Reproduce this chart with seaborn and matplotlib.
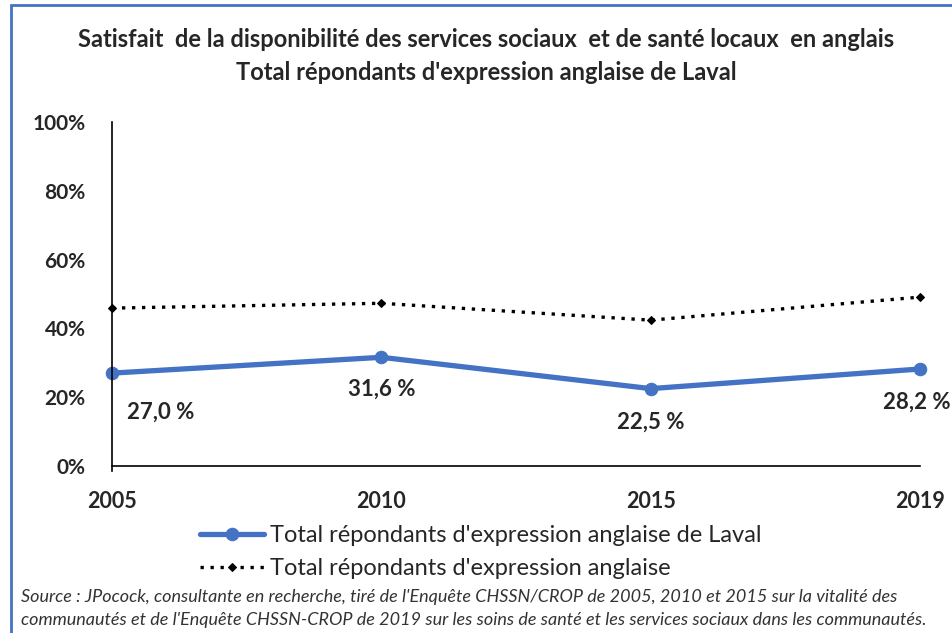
import numpy as np
import pandas as pd
import matplotlib.pyplot as plt
import seaborn as sns
from matplotlib.patches import Rectangle

# data
years = ['2005', '2010', '2015', '2019']
laval = [27.0, 31.6, 22.5, 28.2]
anglais = [45.9, 47.3, 42.4, 49.1]
laval_labels = ['27,0 %', '31,6 %', '22,5 %', '28,2 %']
label_offsets = [(11, -28), (0, -23), (0, -24), (-2, -24)]
y_ticks = [0, 20, 40, 60, 80, 100]

name_laval = "Total répondants d'expression anglaise de Laval"
name_all = "Total répondants d'expression anglaise"

sns.set_style('white')
plt.rcParams['font.family'] = ['Lato', 'DejaVu Sans']

df = pd.DataFrame({'annee': years * 2,
                   'valeur': laval + anglais,
                   'serie': [name_laval] * 4 + [name_all] * 4})

fig = plt.figure(figsize=(9.53, 6.33), dpi=100)
ax = fig.add_axes([0.1175, 0.2638, 0.8479, 0.5435])

blue = '#4472C4'
sns.lineplot(data=df[df.serie == name_laval], x='annee', y='valeur', ax=ax,
             color=blue, lw=3.8, marker='o', markersize=9, markeredgecolor=blue,
             label=name_laval, sort=False)
sns.lineplot(data=df[df.serie == name_all], x='annee', y='valeur', ax=ax,
             color='black', lw=2.4, linestyle=(0, (1, 2)), marker='D', markersize=4.5,
             markeredgecolor='black', label=name_all, sort=False)

ax.set_xlim(0, 3)
ax.set_ylim(0, 100)
ax.set_yticks(y_ticks)
ax.set_yticklabels([f'{v}%' for v in y_ticks], fontsize=15, fontweight='bold')
ax.tick_params(axis='y', length=0, pad=19)
ax.tick_params(axis='x', length=7, direction='out', color='black', width=1.2, pad=11,
               labelsize=15.5)
for t in ax.get_xticklabels():
    t.set_fontweight('bold')
ax.set_xlabel('')
ax.set_ylabel('')
for side in ['top', 'right']:
    ax.spines[side].set_visible(False)
for side in ['left', 'bottom']:
    ax.spines[side].set_color('black')
    ax.spines[side].set_linewidth(1.2)
ax.spines['left'].set_bounds(-1.5, 100)
for line in ax.lines:
    line.set_clip_on(False)

for i, (txt, off) in enumerate(zip(laval_labels, label_offsets)):
    ax.annotate(txt, (i, laval[i]), xytext=off, textcoords='offset points',
                ha='center' if i else 'left', va='center', fontsize=16, fontweight='bold')

ax.legend(loc='upper left', bbox_to_anchor=(0.109, -0.172), frameon=False, fontsize=17,
          handlelength=2.7, handletextpad=0.25, labelspacing=0.5, borderaxespad=0,
          borderpad=0)

fig.text(0.51, 0.937, 'Satisfait  de la disponibilité des services sociaux  et de santé locaux  en anglais',
         ha='center', va='center', fontsize=17, fontweight='bold')
fig.text(0.51, 0.886, "Total répondants d'expression anglaise de Laval",
         ha='center', va='center', fontsize=17, fontweight='bold')

fig.text(0.022, 0.057, "Source : JPocock, consultante en recherche, tiré de l'Enquête CHSSN/CROP de 2005, 2010 et 2015 sur la vitalité des",
         ha='left', va='center', fontsize=13, style='italic', color='#333333')
fig.text(0.022, 0.021, "communautés et de l'Enquête CHSSN-CROP de 2019 sur les soins de santé et les services sociaux dans les communautés.",
         ha='left', va='center', fontsize=13, style='italic', color='#333333')

fig.patches.append(Rectangle((11 / 953, -0.1), 1.2, 1.0 - 5 / 633 + 0.1,
                             transform=fig.transFigure, fill=False,
                             edgecolor='#4472C4', lw=2))

fig.savefig('out.png', dpi=100)
